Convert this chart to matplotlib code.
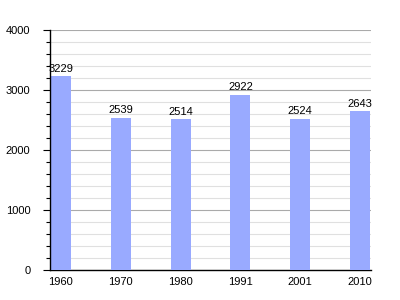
import matplotlib
matplotlib.use("Agg")
import matplotlib.pyplot as plt
from matplotlib.ticker import MultipleLocator

years = ["1960", "1970", "1980", "1991", "2001", "2010"]
population = [3229, 2539, 2514, 2922, 2524, 2643]

plt.rcParams['font.family'] = ['Liberation Sans', 'DejaVu Sans']
fig = plt.figure(figsize=(4, 3), dpi=100)
ax = fig.add_axes([0.125, 0.1, 0.8025, 0.8])

x = list(range(len(years)))
ax.bar(x, population, width=0.333, color="#99aaff", zorder=3)
for xi, v in zip(x, population):
    ax.text(xi, v + 40, str(v), ha="center", va="bottom", fontsize=8, zorder=4)

ax.set_xlim(-0.183, 5.183)
ax.set_ylim(0, 4000)
ax.yaxis.set_major_locator(MultipleLocator(1000))
ax.yaxis.set_minor_locator(MultipleLocator(200))
ax.grid(which="major", axis="y", color="#aaaaaa", linewidth=0.8, zorder=1)
ax.grid(which="minor", axis="y", color="#e0e0e0", linewidth=0.8, zorder=0)
ax.set_xticks(x)
ax.set_xticklabels(years)
ax.tick_params(axis="x", length=0, pad=5, labelsize=8)
ax.tick_params(axis="y", which="major", length=5, width=0.8, pad=9, labelsize=8)
ax.tick_params(axis="y", which="minor", length=3, width=0.8)
for s in ["top", "right"]:
    ax.spines[s].set_visible(False)
ax.spines["left"].set_linewidth(1)
ax.spines["bottom"].set_linewidth(1)
ax.spines["left"].set_zorder(5)

fig.savefig("out.png", dpi=100)
